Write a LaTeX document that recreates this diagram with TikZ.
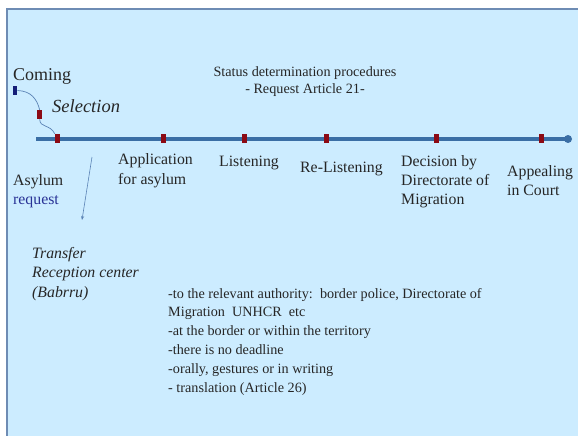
\documentclass[tikz,border=0pt]{standalone}
\usepackage{fontspec}
\setmainfont{Liberation Serif}
\usetikzlibrary{arrows.meta}
\definecolor{bg}{RGB}{204,236,255}
\definecolor{frameline}{RGB}{110,140,180}
\definecolor{axis}{RGB}{58,110,165}
\definecolor{stopred}{RGB}{140,10,20}
\definecolor{stopblue}{RGB}{20,30,120}
\definecolor{ink}{RGB}{38,38,38}
\definecolor{reqblue}{RGB}{40,50,150}
\definecolor{thinline}{RGB}{90,130,180}
\begin{document}
\begin{tikzpicture}[x=1pt,y=-1pt,
  stopmark/.style={rectangle, draw=none, fill=stopred, minimum width=5pt, minimum height=9pt, inner sep=0pt},
  txt/.style={inner sep=0pt, anchor=base west, text=ink, align=left},
  lbl/.style={txt, font=\fontsize{15.8}{18.6}\selectfont},
  bigtxt/.style={txt, font=\fontsize{18}{21}\selectfont},
  smalltxt/.style={txt, font=\fontsize{14.2}{18.8}\selectfont},
  connector/.style={thinline, line width=0.7pt}]
\useasboundingbox (0,0) rectangle (578,436);
% slide background and frame
\fill[bg] (7,9) rectangle (578,436);
\draw[frameline, line width=1.2pt] (7,436) -- (7,9) -- (578,9);

% time axis
\coordinate (tstart) at (36,139);
\node[circle, fill=axis, minimum size=8pt, inner sep=0pt] (tend) at (568,139) {};
\draw[axis, line width=4pt] (tstart) -- (tend.center);

% stops on the axis
\node[stopmark] (m1) at (57.5,138.5) {};
\node[stopmark] (m2) at (163,138.5) {};
\node[stopmark] (m3) at (244,138.5) {};
\node[stopmark] (m4) at (326,138.5) {};
\node[stopmark] (m5) at (436,138.5) {};
\node[stopmark] (m6) at (541,138.5) {};

% arrival path
\node[stopmark, fill=stopblue, minimum width=4pt] (cb) at (15.3,90.5) {};
\node[stopmark] (cr) at (39.7,114.7) {};
\draw[connector] (cb.east) .. controls (31,91) and (37,99) .. (cr.north);
\draw[connector] (cr.south) .. controls (40,128) and (50,124) .. (m1.north west);

% transfer arrow
\coordinate (arrtail) at (92,157);
\coordinate (arrhead) at (82,220);
\draw[connector, line width=0.6pt, -{Stealth[length=4pt,width=3pt]}] (arrtail) -- (arrhead);

% titles (multi-line nodes are placed by the baseline of their last line)
\node[bigtxt] (coming) at (13,81) {Coming};
\node[bigtxt, font=\fontsize{18.5}{21}\selectfont\itshape] (selection) at (52,112) {Selection};
\node[txt, anchor=base, align=center, font=\fontsize{14.2}{16.5}\selectfont] (status) at (305,93)
  {Status determination procedures\\- Request Article 21-};

% stage labels
\node[lbl] (asylum) at (13,204) {Asylum\\\textcolor{reqblue}{request}};
\node[lbl, font=\fontsize{15.8}{20}\selectfont] (application) at (118,184) {Application\\for asylum};
\node[lbl] (listening) at (219,166) {Listening};
\node[lbl] (relistening) at (300,172) {Re-Listening};
\node[lbl] (decision) at (401,204) {Decision by\\Directorate of\\Migration};
\node[lbl] (appealing) at (507,195) {Appealing\\in Court};

% transfer note
\node[lbl, font=\fontsize{15.8}{19.5}\selectfont\itshape] (transfer) at (32,297)
  {Transfer\\Reception center\\(Babrru)};

% request details
\node[smalltxt] (details) at (168,392)
  {-to the relevant authority:\ \ border police, Directorate of\\
   Migration\ \ UNHCR\ \ etc\\
   -at the border or within the territory\\
   -there is no deadline\\
   -orally, gestures or in writing\\
   - translation (Article 26)};
\end{tikzpicture}
\end{document}
